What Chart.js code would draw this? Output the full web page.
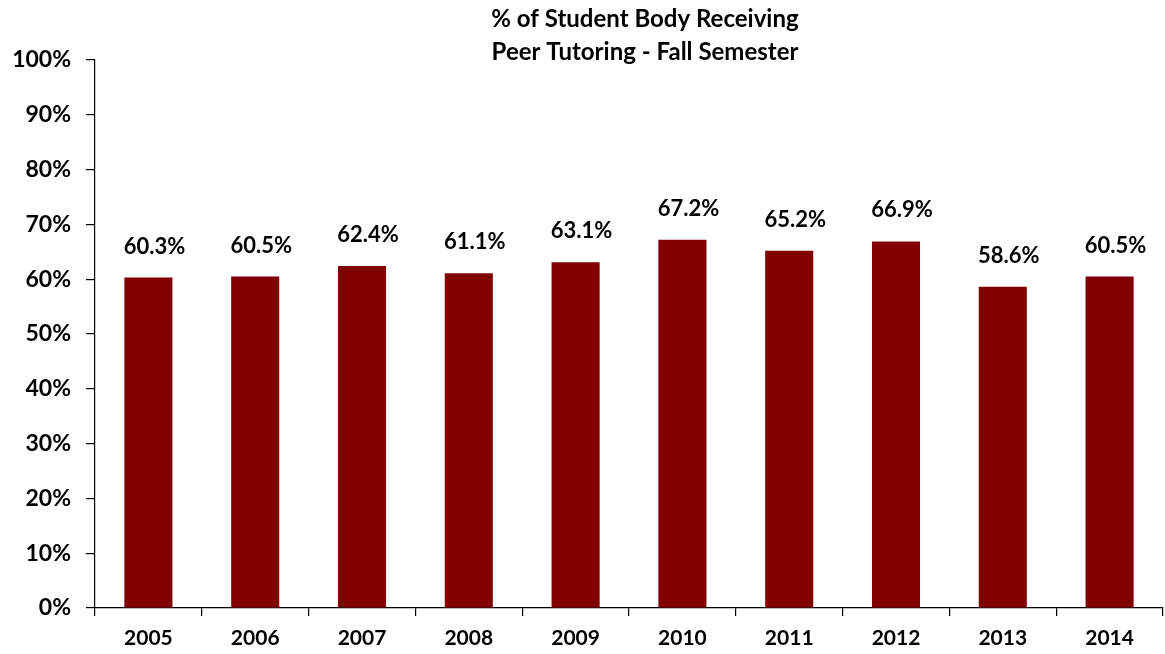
<!DOCTYPE html>
<html><head><meta charset="utf-8">
<script src="https://cdn.jsdelivr.net/npm/chart.js@4.4.1/dist/chart.umd.min.js"></script>
<style>html,body{margin:0;padding:0;background:#fff}#wrap{width:1165px;height:654px}</style>
</head><body><div id="wrap"><canvas id="c" width="1165" height="654"></canvas></div>
<script>
const years = ['2005','2006','2007','2008','2009','2010','2011','2012','2013','2014'];
const percentValues = [60.3, 60.5, 62.4, 61.1, 63.1, 67.2, 65.2, 66.9, 58.6, 60.5];
const titleLines = ['% of Student Body Receiving', 'Peer Tutoring - Fall Semester'];
const FONT = "Lato, 'Open Sans', 'Liberation Sans', sans-serif";

const titlePlugin = {
  id: 'titleText',
  afterDraw(chart) {
    const ctx = chart.ctx;
    ctx.save();
    ctx.fillStyle = '#000';
    ctx.font = 'bold 24px ' + FONT;
    ctx.textAlign = 'center';
    ctx.textBaseline = 'middle';
    ctx.fillText(titleLines[0], 645, 19);
    ctx.fillText(titleLines[1], 645, 52);
    ctx.restore();
  }
};
const labelPlugin = {
  id: 'valueLabels',
  afterDatasetsDraw(chart) {
    const ctx = chart.ctx;
    const meta = chart.getDatasetMeta(0);
    ctx.save();
    ctx.fillStyle = '#000';
    ctx.font = 'bold 22px ' + FONT;
    ctx.textAlign = 'center';
    ctx.textBaseline = 'middle';
    meta.data.forEach((bar, i) => {
      ctx.fillText(percentValues[i].toFixed(1) + '%', bar.x + 6, bar.y - 31);
    });
    ctx.restore();
  }
};

new Chart(document.getElementById('c'), {
  type: 'bar',
  data: {
    labels: years,
    datasets: [{
      data: percentValues,
      backgroundColor: '#800000',
      borderWidth: 0,
      categoryPercentage: 0.9,
      barPercentage: 0.5
    }]
  },
  options: {
    responsive: false,
    animation: false,
    layout: { padding: { top: 60, right: 2, left: 0, bottom: 0 } },
    plugins: { legend: { display: false }, tooltip: { enabled: false }, title: { display: false } },
    scales: {
      x: {
        offset: true,
        grid: { display: true, offset: true, drawOnChartArea: false, drawTicks: true, tickLength: 8, color: '#000', lineWidth: 1.2 },
        border: { display: true, color: '#000', width: 1.2 },
        ticks: { color: '#000', font: { family: FONT, size: 21, weight: 'bold' }, padding: 10 },
        afterFit(s) { s.height = 46; }
      },
      y: {
        min: 0, max: 100,
        grid: { display: true, drawOnChartArea: false, drawTicks: true, tickLength: 9, color: '#000', lineWidth: 1.2 },
        border: { display: true, color: '#000', width: 1.2 },
        ticks: { stepSize: 10, color: '#000', font: { family: FONT, size: 23, weight: 'bold' }, padding: 15,
                 callback: v => v + '%' },
        afterFit(s) { s.width = 95; }
      }
    }
  },
  plugins: [titlePlugin, labelPlugin]
});
</script>
</body></html>
